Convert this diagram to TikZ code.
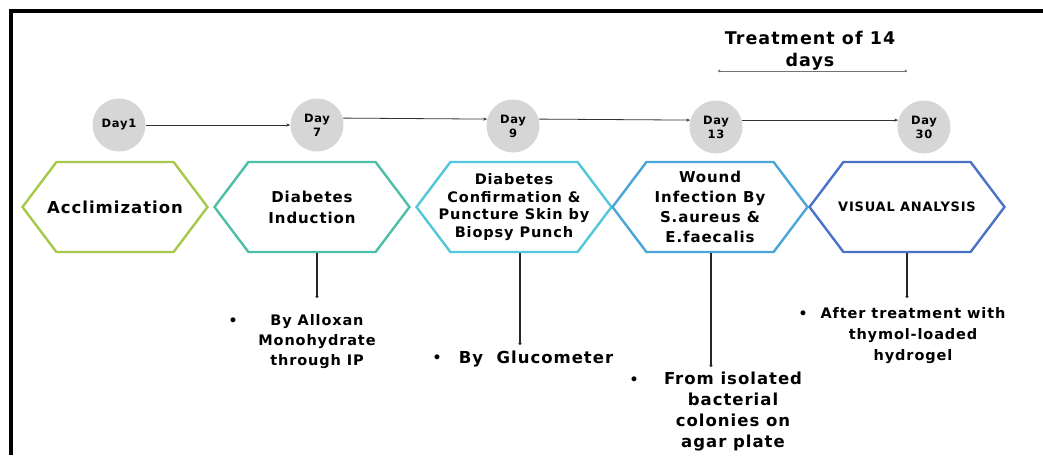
\documentclass[tikz,border=0pt]{standalone}
\usepackage{fontspec}
\setmainfont{DejaVu Sans}[LetterSpace=6]
\usetikzlibrary{shapes.symbols,arrows.meta}
\definecolor{dayGray}{HTML}{D6D6D6}
\definecolor{hexLime}{HTML}{A5C94A}
\definecolor{hexTeal}{HTML}{4DBFA8}
\definecolor{hexCyan}{HTML}{52C6DA}
\definecolor{hexSky}{HTML}{4AA6D9}
\definecolor{hexBlue}{HTML}{4A73C8}
\newcommand{\fs}[2]{\bfseries\fontsize{#1}{#2}\selectfont}
\begin{document}
\begin{tikzpicture}[x=1pt,y=-1pt, every node/.style={align=center, inner sep=0pt},
    day/.style={circle, fill=dayGray, minimum size=53pt, font=\fs{11.5}{14}},
    hexa/.style={signal, signal to=east and west, signal pointer angle=106, draw=#1,
        line width=2.4pt, minimum width=195pt, minimum height=90pt},
    arr/.style={draw=black!80, line width=0.8pt, -{Stealth[length=4pt,width=3pt]}},
    stem/.style={draw=black!85, line width=1.1pt, -{Circle[length=3pt]}},
    span/.style={draw=black!55, line width=1pt, {Circle[length=2.5pt]}-{Circle[length=2.5pt]}}]
    \useasboundingbox (0,0) rectangle (1043,455);
    \draw[line width=4pt] (11,455) -- (11,11) -- (1043,11);

    % timeline of days
    \foreach \n/\x/\y/\t in {c1/119/125/Day1, c2/317/125/{Day\\7}, c3/513/126/{Day\\9},
        c4/716/127/{Day\\13}, c5/924/127/{Day\\30}}
        \node[day] (\n) at (\x,\y) {\t};
    \draw[arr] (c1) -- (c2);
    \draw[arr] (c2.15) -- (c3.165);
    \draw[arr] (c3.15) -- (c4.165);
    \draw[arr] (c4.15) -- (c5.165);

    \node[font=\fs{17.5}{22}] (treat) at (810,51) {Treatment of 14\\days};
    \coordinate (tl) at (718,71);
    \coordinate (tr) at (907,71);
    \draw[span] (tl) -- (tr);

    % stages
    \node[hexa=hexLime, minimum width=185pt, label={[font=\fs{16.5}{20}]center:Acclimization}] (h1) at (115,207) {};
    \node[hexa=hexTeal, label={[font=\fs{15}{21}]center:Diabetes\\Induction}] (h2) at (312,207) {};
    \node[hexa=hexCyan, label={[font=\fs{14.5}{17.5}]center:Diabetes\\Confirmation \&\\Puncture Skin by\\Biopsy Punch}] (h3) at (514,207) {};
    \node[hexa=hexSky, label={[font=\fs{15}{20}]center:Wound\\Infection By\\S.aureus \&\\E.faecalis}] (h4) at (710,207) {};
    \node[hexa=hexBlue, label={[font=\fs{13}{16}]center:VISUAL ANALYSIS}] (h5) at (907,207) {};

    % notes under the stages
    \coordinate (e2) at (317,298);
    \coordinate (e3) at (520,345);
    \coordinate (e4) at (711,367);
    \coordinate (e5) at (907,298);
    \foreach \h/\e in {h2/e2, h3/e3, h4/e4, h5/e5}
        \draw[stem] (\h.south -| \e) -- (\e);

    \node[font=\fs{14.5}{20}] (n2) at (317,342) {By Alloxan\\Monohydrate\\through IP};
    \node[font=\fs{16.5}{20}] (n3) at (536,359) {By~~Glucometer};
    \node[font=\fs{16.5}{21}] (n4) at (733,412) {From isolated\\bacterial\\colonies on\\agar plate};
    \node[font=\fs{14.5}{21}] (n5) at (913,336) {After treatment with\\thymol-loaded\\hydrogel};
    \foreach \b/\x/\y in {b2/233/322, b3/437/359, b4/634/381, b5/803/315}
        \node[font=\fs{14}{14}] (\b) at (\x,\y) {\textbullet};
\end{tikzpicture}
\end{document}
